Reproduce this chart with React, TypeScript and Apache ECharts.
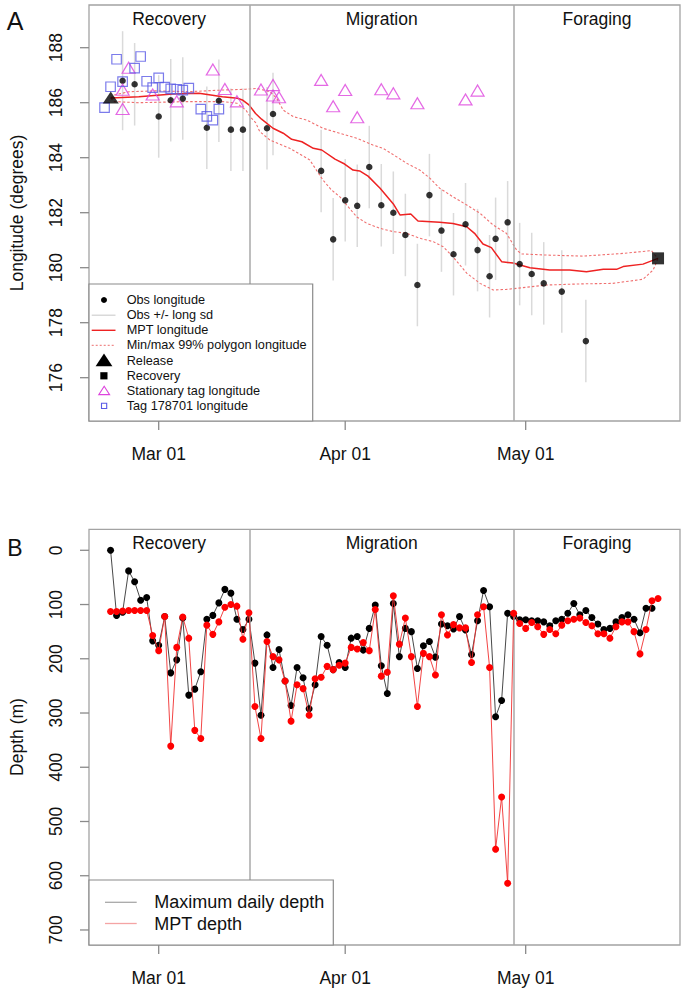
import React, { useEffect, useRef } from "react";
import * as echarts from "echarts";

// ---------- shared axis info (days relative to Mar 01) ----------
const xTickDays = [0, 31, 61];
const xTickLabels = ["Mar 01", "Apr 01", "May 01"];
const phaseNames = ["Recovery", "Migration", "Foraging"];
const phaseBreaks = [15.06, 59.06];
const X_MIN = -11.585;
const X_MAX = 86.65;

// ---------- Panel A: longitude ----------
const LON_MIN = 174.425;
const LON_MAX = 189.553;
const lonTicks = [176, 178, 180, 182, 184, 186, 188];
const obsDays = [-6, -4, 0, 2, 4, 8, 10, 12, 14, 18, 19, 27, 29, 31, 33, 35, 37, 39, 41, 43, 45, 47, 49, 51, 53, 55, 56, 58, 60, 62, 64, 67, 71];
const obsLon = [186.8, 186.67, 185.5, 186.09, 186.15, 185.09, 186.07, 185.02, 185.02, 185.07, 185.59, 183.52, 181.03, 182.45, 182.25, 183.66, 182.27, 182.0, 181.19, 179.37, 182.64, 181.35, 180.49, 181.58, 180.64, 179.69, 181.05, 181.65, 180.13, 179.77, 179.43, 179.13, 177.33];
const obsSd = [1.8, 1.5, 1.5, 1.5, 1.5, 1.5, 1.5, 1.5, 1.5, 1.5, 1.5, 1.5, 1.5, 1.5, 1.5, 1.5, 1.5, 1.5, 1.5, 1.5, 1.5, 1.5, 1.5, 1.5, 1.5, 1.5, 1.5, 1.5, 1.5, 1.5, 1.5, 1.5, 1.5];

const mptDays = [-7.97, -3.3, 2.3, 6.7, 10.6, 13.1, 13.9, 15.0, 16.1, 17.1, 19.0, 20.7, 22.1, 23.8, 25.7, 27.1, 29.3, 30.9, 32.3, 33.4, 34.8, 36.8, 39.0, 40.1, 41.9, 43.1, 46.7, 48.9, 51.2, 52.5, 53.9, 55.3, 57.0, 58.9, 61.7, 65.0, 68.3, 71.1, 73.9, 76.1, 77.2, 80.5, 83.0];
const mptLon = [186.17, 186.22, 186.32, 186.34, 186.22, 186.16, 186.1, 185.92, 185.61, 185.4, 185.07, 184.89, 184.67, 184.58, 184.34, 184.28, 183.95, 183.77, 183.55, 183.52, 183.33, 182.89, 182.32, 181.92, 181.95, 181.7, 181.65, 181.61, 181.49, 181.25, 180.86, 180.73, 180.22, 180.17, 180.0, 179.92, 179.92, 179.85, 179.94, 179.94, 180.04, 180.13, 180.34];

const polyUpDays = [-7.97, -7.4, -4.9, -0.5, 5.0, 10.6, 14.5, 16.3, 18.5, 19.6, 20.7, 22.4, 24.6, 27.3, 30.1, 32.9, 35.6, 37.3, 39.5, 41.2, 43.4, 45.1, 46.7, 48.9, 51.2, 53.4, 55.6, 57.8, 59.5, 60.3, 64.5, 70.5, 77.2, 81.9, 82.5, 83.0];
const polyUpLon = [186.17, 186.28, 186.4, 186.43, 186.4, 186.46, 186.49, 186.52, 186.4, 186.16, 185.73, 185.49, 185.37, 185.07, 184.89, 184.71, 184.46, 184.34, 184.04, 183.8, 183.55, 183.25, 182.89, 182.58, 182.28, 181.98, 181.55, 181.25, 180.64, 180.5, 180.46, 180.42, 180.52, 180.62, 180.46, 180.34];
const polyLoDays = [-7.97, -7.4, -3.3, 5.0, 10.6, 13.0, 14.5, 15.2, 16.1, 16.8, 18.5, 21.8, 25.1, 27.3, 28.7, 30.1, 32.9, 34.6, 36.8, 39.0, 41.2, 43.4, 45.6, 47.3, 48.9, 51.2, 53.4, 55.6, 57.8, 59.5, 64.5, 70.0, 75.5, 80.5, 82.2, 83.0];
const polyLoLon = [186.17, 186.04, 186.0, 186.04, 186.04, 185.98, 185.73, 185.49, 185.28, 184.95, 184.64, 184.34, 183.92, 183.19, 182.83, 182.58, 181.85, 181.61, 181.43, 181.31, 181.25, 181.07, 180.95, 180.76, 180.4, 179.8, 179.43, 179.19, 179.21, 179.25, 179.37, 179.41, 179.43, 179.58, 179.92, 180.34];

const releasePt = [-7.97, 186.19];
const recoveryPt = [83.0, 180.34];

const statDays = [-6, -6, -5, -1, 3, 9, 11, 13, 17, 19, 19, 20, 27, 29, 31, 33, 37, 39, 43, 51, 53];
const statLon = [186.47, 185.77, 187.27, 186.3, 186.05, 187.21, 186.5, 186.05, 186.48, 186.64, 186.26, 186.2, 186.83, 185.87, 186.46, 185.47, 186.49, 186.34, 185.98, 186.12, 186.44];

const tagDays = [-9, -8, -7, -6, -4, -3, -2, -1, 0, 1, 2, 3, 4, 5, 7, 8, 9, 10];
const tagLon = [185.82, 186.58, 187.58, 186.77, 187.26, 187.68, 186.78, 186.55, 186.9, 186.57, 186.5, 186.49, 186.46, 186.53, 185.77, 185.5, 185.37, 185.77];

// ---------- Panel B: depth ----------
const DEPTH_MIN = -38.7;
const DEPTH_MAX = 727.7;
const depthTicks = [0, 100, 200, 300, 400, 500, 600, 700];
const maxDepthStart = -8;
const maxDepth = [0, 120, 114, 38, 58, 92, 87, 167, 175, 122, 226, 202, 125, 267, 256, 224, 127, 120, 97, 72, 79, 127, 146, 127, 208, 304, 156, 216, 183, 241, 286, 216, 235, 292, 248, 159, 175, 220, 207, 216, 162, 159, 184, 144, 101, 213, 264, 98, 196, 144, 150, 218, 176, 168, 197, 136, 139, 145, 122, 147, 192, 130, 74, 104, 307, 277, 116, 122, 128, 128, 130, 130, 132, 139, 130, 127, 116, 98, 119, 111, 124, 136, 146, 144, 132, 124, 119, 127, 152, 107, 107];
const mptDepthStart = -8;
const mptDepth = [113, 113, 112, 111, 111, 111, 111, 157, 185, 122, 361, 179, 123, 162, 332, 347, 138, 155, 132, 105, 100, 103, 164, 115, 288, 347, 168, 196, 202, 241, 315, 248, 255, 304, 237, 234, 214, 220, 212, 208, 179, 182, 170, 185, 109, 232, 225, 84, 173, 125, 196, 288, 190, 196, 230, 119, 156, 137, 143, 143, 207, 119, 104, 216, 551, 455, 614, 116, 135, 144, 133, 141, 155, 146, 154, 138, 130, 127, 125, 133, 139, 154, 154, 162, 141, 132, 132, 150, 191, 146, 93, 89];

const FONT = "'Liberation Sans', Arial, Helvetica, sans-serif";
const BOX = "#a3a3a3";
const TICK = "#8a8a8a";
const TICK_LEN = 9;

function xAxisCfg(gridIndex: number) {
  return {
    type: "value",
    gridIndex,
    min: X_MIN,
    max: X_MAX,
    position: "bottom",
    axisLine: { show: false, onZero: false },
    splitLine: { show: false },
    axisTick: { show: false },
    axisLabel: {
      show: true,
      customValues: xTickDays,
      margin: 24,
      fontSize: 17.5,
      fontFamily: FONT,
      color: "#111",
      formatter: (v: number) => {
        const i = xTickDays.indexOf(Math.round(v));
        return i >= 0 ? xTickLabels[i] : "";
      },
    },
  };
}

function yAxisCfg(gridIndex: number, min: number, max: number, ticks: number[], inverse: boolean) {
  return {
    type: "value",
    gridIndex,
    min,
    max,
    inverse,
    position: "left",
    axisLine: { show: false, onZero: false },
    splitLine: { show: false },
    axisTick: { show: false },
    axisLabel: {
      show: true,
      customValues: ticks,
      rotate: 90,
      margin: 24,
      fontSize: 17.5,
      fontFamily: FONT,
      color: "#111",
    },
  };
}

// tick marks drawn outward from the box, positioned through the axes' scales
function tickSeries(axisIndex: number, yEdge: number, yTicks: number[]) {
  return [
    {
      type: "custom",
      xAxisIndex: axisIndex,
      yAxisIndex: axisIndex,
      clip: false,
      silent: true,
      z: 1,
      encode: { x: 0, y: 1 },
      data: xTickDays.map((d) => [d, yEdge]),
      renderItem: (params: any, api: any) => {
        const p = api.coord([api.value(0), api.value(1)]);
        return {
          type: "line",
          shape: { x1: p[0], y1: p[1], x2: p[0], y2: p[1] + TICK_LEN },
          style: { stroke: TICK, lineWidth: 1.3 },
        };
      },
    },
    {
      type: "custom",
      xAxisIndex: axisIndex,
      yAxisIndex: axisIndex,
      clip: false,
      silent: true,
      z: 1,
      encode: { x: 0, y: 1 },
      data: yTicks.map((v) => [X_MIN, v]),
      renderItem: (params: any, api: any) => {
        const p = api.coord([api.value(0), api.value(1)]);
        return {
          type: "line",
          shape: { x1: p[0] - TICK_LEN, y1: p[1], x2: p[0], y2: p[1] },
          style: { stroke: TICK, lineWidth: 1.3 },
        };
      },
    },
  ];
}

function phaseMarks() {
  const edges = [X_MIN, ...phaseBreaks, X_MAX];
  return {
    markLine: {
      silent: true,
      symbol: ["none", "none"],
      label: { show: false },
      lineStyle: { color: "#a8a8a8", width: 1.5, type: "solid" },
      data: phaseBreaks.map((b) => ({ xAxis: b })),
    },
    markArea: {
      silent: true,
      itemStyle: { color: "rgba(0,0,0,0)" },
      label: {
        show: true,
        position: "insideTop",
        distance: 5,
        fontSize: 17.5,
        fontFamily: FONT,
        color: "#111",
      },
      data: phaseNames.map((n, i) => [{ name: n, xAxis: edges[i] }, { xAxis: edges[i + 1] }]),
    },
  };
}

function legendText(x: number, y: number, text: string, size: number) {
  return {
    type: "text",
    x,
    y,
    z: 102,
    style: {
      text,
      fontSize: size,
      fontFamily: FONT,
      fill: "#111",
      textAlign: "left",
      align: "left",
      textVerticalAlign: "middle",
      verticalAlign: "middle",
    },
  };
}

export default function App() {
  const ref = useRef<HTMLDivElement>(null);

  useEffect(() => {
    document.body.style.margin = "0";
    if (!ref.current) return;
    const chart = echarts.init(ref.current, undefined, { renderer: "svg" });

    const rowsA = [300, 315.2, 330.3, 345.4, 360.5, 375.7, 390.8, 405.9];
    const legA: any[] = [
      { type: "rect", z: 100, shape: { x: 89, y: 284, width: 223.7, height: 137 }, style: { fill: "#fff", stroke: "#8a8a8a", lineWidth: 1.2 } },
      { type: "circle", z: 101, shape: { cx: 104, cy: rowsA[0], r: 3 }, style: { fill: "#000" } },
      { type: "line", z: 101, shape: { x1: 91.7, y1: rowsA[1], x2: 115.5, y2: rowsA[1] }, style: { stroke: "#d0d0d0", lineWidth: 1.2 } },
      { type: "line", z: 101, shape: { x1: 91.7, y1: rowsA[2], x2: 115.5, y2: rowsA[2] }, style: { stroke: "#ee2222", lineWidth: 1.4 } },
      { type: "line", z: 101, shape: { x1: 91.7, y1: rowsA[3], x2: 115.5, y2: rowsA[3] }, style: { stroke: "#f08a8a", lineWidth: 1.1, lineDash: [2, 2] } },
      { type: "polygon", z: 101, shape: { points: [[104, 353.6], [112.4, 366.2], [95.6, 366.2]] }, style: { fill: "#000" } },
      { type: "rect", z: 101, shape: { x: 100.3, y: 372.2, width: 7.2, height: 7.2 }, style: { fill: "#000" } },
      { type: "polygon", z: 101, shape: { points: [[104.2, 386.3], [109.6, 394.6], [98.8, 394.6]] }, style: { fill: "none", stroke: "#dd44dd", lineWidth: 1.1 } },
      { type: "rect", z: 101, shape: { x: 101.5, y: 403.3, width: 5.2, height: 5.2 }, style: { fill: "none", stroke: "#5a5ae6", lineWidth: 1.1 } },
    ];
    const legAText = [
      "Obs longitude",
      "Obs +/- long sd",
      "MPT longitude",
      "Min/max 99% polygon longitude",
      "Release",
      "Recovery",
      "Stationary tag longitude",
      "Tag 178701 longitude",
    ];
    legAText.forEach((t, i) => legA.push(legendText(126.7, rowsA[i], t, 12.7)));

    const legB: any[] = [
      { type: "rect", z: 100, shape: { x: 89, y: 880, width: 244.3, height: 65 }, style: { fill: "#fff", stroke: "#8a8a8a", lineWidth: 1.2 } },
      { type: "line", z: 101, shape: { x1: 105, y1: 902.3, x2: 136.7, y2: 902.3 }, style: { stroke: "#a8a8a8", lineWidth: 1.3 } },
      { type: "line", z: 101, shape: { x1: 105, y1: 923.5, x2: 136.7, y2: 923.5 }, style: { stroke: "#f4a4a4", lineWidth: 1.3 } },
      legendText(154.3, 902.3, "Maximum daily depth", 18),
      legendText(154.3, 923.8, "MPT depth", 18),
    ];

    const titles: any[] = [
      { type: "text", x: 15, y: 21, z: 102, style: { text: "A", fontSize: 25, fontFamily: FONT, fill: "#111", textAlign: "center", align: "center", textVerticalAlign: "middle", verticalAlign: "middle" } },
      { type: "text", x: 15, y: 548, z: 102, style: { text: "B", fontSize: 23, fontFamily: FONT, fill: "#111", textAlign: "center", align: "center", textVerticalAlign: "middle", verticalAlign: "middle" } },
      { type: "text", x: 17, y: 213, rotation: Math.PI / 2, z: 102, style: { text: "Longitude (degrees)", fontSize: 17.5, fontFamily: FONT, fill: "#111", textAlign: "center", align: "center", textVerticalAlign: "middle", verticalAlign: "middle" } },
      { type: "text", x: 17, y: 737, rotation: Math.PI / 2, z: 102, style: { text: "Depth (m)", fontSize: 17.5, fontFamily: FONT, fill: "#111", textAlign: "center", align: "center", textVerticalAlign: "middle", verticalAlign: "middle" } },
    ];

    const pairs = (xs: number[], ys: number[]) => xs.map((x, i) => [x, ys[i]]);
    const daily = (start: number, ys: number[]) => ys.map((y, i) => [start + i, y]);

    const option: any = {
      animation: false,
      textStyle: { fontFamily: FONT },
      grid: [
        { left: 89, top: 5, right: 5, height: 416, show: true, borderColor: BOX, borderWidth: 1.3, backgroundColor: "rgba(0,0,0,0)" },
        { left: 89, top: 529.3, right: 5, height: 415.7, show: true, borderColor: BOX, borderWidth: 1.3, backgroundColor: "rgba(0,0,0,0)" },
      ],
      xAxis: [xAxisCfg(0), xAxisCfg(1)],
      yAxis: [
        yAxisCfg(0, LON_MIN, LON_MAX, lonTicks, false),
        yAxisCfg(1, DEPTH_MIN, DEPTH_MAX, depthTicks, true),
      ],
      series: [
        ...tickSeries(0, LON_MIN, lonTicks),
        ...tickSeries(1, DEPTH_MAX, depthTicks),
        {
          type: "custom",
          name: "Obs +/- long sd",
          xAxisIndex: 0,
          yAxisIndex: 0,
          z: 2,
          clip: true,
          silent: true,
          encode: { x: 0, y: 1 },
          data: obsDays.map((d, i) => [d, obsLon[i], obsSd[i]]),
          renderItem: (params: any, api: any) => {
            const x = api.value(0);
            const y = api.value(1);
            const s = api.value(2);
            const p1 = api.coord([x, y - s]);
            const p2 = api.coord([x, y + s]);
            return {
              type: "line",
              shape: { x1: p1[0], y1: p1[1], x2: p2[0], y2: p2[1] },
              style: { stroke: "#dadada", lineWidth: 1.5 },
            };
          },
        },
        {
          type: "line",
          name: "polyUp",
          xAxisIndex: 0,
          yAxisIndex: 0,
          z: 3,
          showSymbol: false,
          silent: true,
          data: pairs(polyUpDays, polyUpLon),
          lineStyle: { color: "#f07070", width: 1.1, type: [2.5, 2] },
        },
        {
          type: "line",
          name: "polyLo",
          xAxisIndex: 0,
          yAxisIndex: 0,
          z: 3,
          showSymbol: false,
          silent: true,
          data: pairs(polyLoDays, polyLoLon),
          lineStyle: { color: "#f07070", width: 1.1, type: [2.5, 2] },
        },
        {
          type: "line",
          name: "MPT longitude",
          xAxisIndex: 0,
          yAxisIndex: 0,
          z: 4,
          showSymbol: false,
          silent: true,
          data: pairs(mptDays, mptLon),
          lineStyle: { color: "#ee2222", width: 1.5 },
          ...phaseMarks(),
        },
        {
          type: "scatter",
          name: "Obs longitude",
          xAxisIndex: 0,
          yAxisIndex: 0,
          z: 5,
          symbol: "circle",
          symbolSize: 6.5,
          itemStyle: { color: "#000" },
          data: pairs(obsDays, obsLon),
        },
        {
          type: "scatter",
          name: "Stationary tag longitude",
          xAxisIndex: 0,
          yAxisIndex: 0,
          z: 6,
          symbol: "triangle",
          symbolSize: [13, 11],
          itemStyle: { color: "rgba(0,0,0,0)", borderColor: "#dd44dd", borderWidth: 1.2 },
          data: pairs(statDays, statLon),
        },
        {
          type: "scatter",
          name: "Tag 178701 longitude",
          xAxisIndex: 0,
          yAxisIndex: 0,
          z: 7,
          symbol: "rect",
          symbolSize: 9.5,
          itemStyle: { color: "rgba(0,0,0,0)", borderColor: "#5a5ae6", borderWidth: 1.2 },
          data: pairs(tagDays, tagLon),
        },
        {
          type: "scatter",
          name: "Release",
          xAxisIndex: 0,
          yAxisIndex: 0,
          z: 8,
          symbol: "triangle",
          symbolSize: [16, 12],
          itemStyle: { color: "#000" },
          data: [releasePt],
        },
        {
          type: "scatter",
          name: "Recovery",
          xAxisIndex: 0,
          yAxisIndex: 0,
          z: 8,
          symbol: "rect",
          symbolSize: 12,
          itemStyle: { color: "#000" },
          data: [recoveryPt],
        },
        {
          type: "line",
          name: "Maximum daily depth",
          xAxisIndex: 1,
          yAxisIndex: 1,
          z: 4,
          silent: true,
          symbol: "circle",
          symbolSize: 7,
          showSymbol: true,
          showAllSymbol: true,
          itemStyle: { color: "#000" },
          lineStyle: { color: "#333", width: 0.9 },
          data: daily(maxDepthStart, maxDepth),
          ...phaseMarks(),
        },
        {
          type: "line",
          name: "MPT depth",
          xAxisIndex: 1,
          yAxisIndex: 1,
          z: 5,
          silent: true,
          symbol: "circle",
          symbolSize: 7,
          showSymbol: true,
          showAllSymbol: true,
          itemStyle: { color: "#ff0000" },
          lineStyle: { color: "#f03030", width: 0.9 },
          data: daily(mptDepthStart, mptDepth),
        },
      ],
      graphic: [...legA, ...legB, ...titles],
    };

    chart.setOption(option);
    return () => chart.dispose();
  }, []);

  return <div ref={ref} style={{ width: 685, height: 994 }} />;
}
